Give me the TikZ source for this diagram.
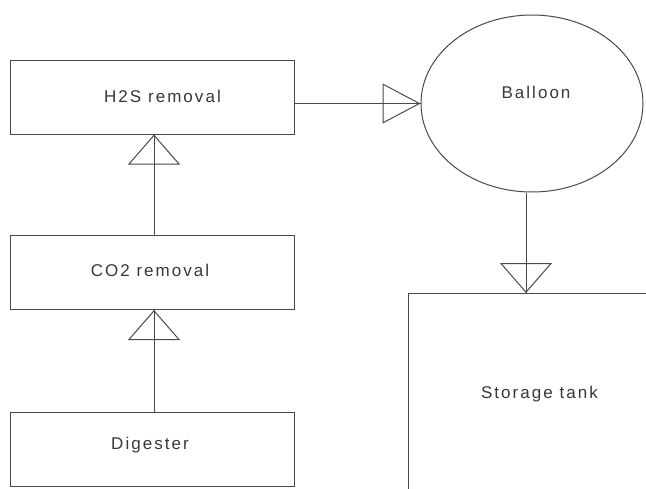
\documentclass[tikz,border=0pt]{standalone}
\usepackage{fontspec}
\newfontfamily\lblfont[LetterSpace=12]{Liberation Sans}
\usetikzlibrary{shapes.geometric,arrows.meta,calc}
\definecolor{linec}{HTML}{4A4A4A}
\definecolor{textc}{HTML}{383838}
\begin{document}
\begin{tikzpicture}[x=1pt,y=-1pt,
  box/.style={draw=linec,line width=1pt,rectangle,minimum width=284pt,minimum height=74pt,inner sep=0pt},
  lbl/.style={text=textc,font=\lblfont\fontsize{17}{20}\selectfont,inner sep=0pt,anchor=base},
  conn/.style={draw=linec,line width=1pt},
  vtip/.style={draw=linec,line width=1pt,-{Triangle[open,length=30pt,width=52pt]}},
  htip/.style={draw=linec,line width=1pt,-{Triangle[open,length=38pt,width=40pt]}}]
\useasboundingbox (0,0) rectangle (646,488);
\clip (0,0) rectangle (646,488);
% boxes
\node[box] (h2s) at (152,97) {};
\node[box] (co2) at (152,272.5) {};
\node[box] (dig) at (152,449) {};
\node[draw=linec,line width=1pt,ellipse,minimum width=222pt,minimum height=177pt,inner sep=0pt] (balloon) at (532,103.5) {};
\node[box,minimum width=300pt,minimum height=260pt,anchor=north west] (tank) at (408,293) {};
% labels
\node[lbl] (h2st) at (162.5,102) {H2S removal};
\node[lbl] (co2t) at (150,276.5) {CO2 removal};
\node[lbl] (digt) at (150,449) {Digester};
\node[lbl] (balt) at (536,98.3) {Balloon};
\node[lbl] (tankt) at (539.5,398) {Storage tank};
% helper coordinates
\coordinate (colx) at (154,0);
\coordinate (tx) at (526,0);
% connectors
\draw[conn] (dig.north -| colx) -- (co2.south -| colx);
\draw[vtip] (dig.north -| colx) -- (co2.south -| colx);
\draw[conn] (co2.north -| colx) -- (h2s.south -| colx);
\draw[vtip] (co2.north -| colx) -- (h2s.south -| colx);
\draw[conn] (h2s.east |- balloon.west) -- (balloon.west);
\draw[htip] (h2s.east |- balloon.west) -- (balloon.west);
\draw[conn] (balloon.south -| tx) -- (tank.north -| tx);
\draw[vtip] (balloon.south -| tx) -- (tank.north -| tx);
\end{tikzpicture}
\end{document}
